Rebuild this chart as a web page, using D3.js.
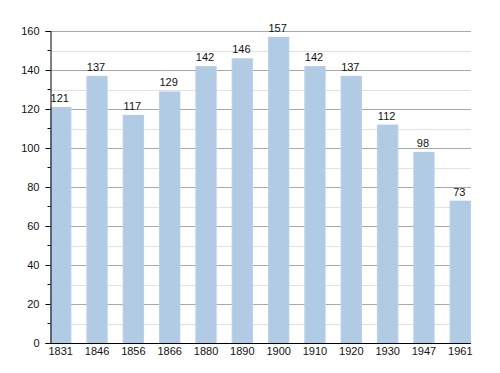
<!DOCTYPE html>
<html>
<head>
<meta charset="utf-8">
<script src="https://cdn.jsdelivr.net/npm/d3@7"></script>
<style>
  body { margin: 0; background: #fff; }
  text { font-family: "Liberation Sans", Arial, sans-serif; font-size: 11px; fill: #111; }
</style>
</head>
<body>
<div id="chart"></div>
<script>
// census years and population
var years = ["1831", "1846", "1856", "1866", "1880", "1890", "1900", "1910", "1920", "1930", "1947", "1961"];
var population = [121, 137, 117, 129, 142, 146, 157, 142, 137, 112, 98, 73];
var majorTicks = [0, 20, 40, 60, 80, 100, 120, 140, 160];
var minorTicks = [10, 30, 50, 70, 90, 110, 130, 150];

var svg_width = 500, svg_height = 373;
var plot_left = 50, plot_right = 471, plot_top = 31, plot_bottom = 343;

var svg = d3.select("#chart").append("svg")
    .attr("width", svg_width)
    .attr("height", svg_height);

var x = d3.scaleBand()
    .domain(years)
    .range([plot_left, plot_right])
    .paddingInner(0.41)
    .paddingOuter(0)
    .align(0);

var y = d3.scaleLinear()
    .domain([0, 160])
    .range([plot_bottom, plot_top]);

// bar gradient, soft edges
var grad = svg.append("defs").append("linearGradient")
    .attr("id", "barGrad")
    .attr("x1", "0%").attr("x2", "100%")
    .attr("y1", "0%").attr("y2", "0%");
grad.append("stop").attr("offset", "0%").attr("stop-color", "#bcd3ea");
grad.append("stop").attr("offset", "8%").attr("stop-color", "#b2cbe4");
grad.append("stop").attr("offset", "92%").attr("stop-color", "#b2cbe4");
grad.append("stop").attr("offset", "100%").attr("stop-color", "#bcd3ea");

// grid lines
svg.append("g").selectAll("line")
    .data(minorTicks)
    .enter().append("line")
    .attr("x1", plot_left).attr("x2", plot_right)
    .attr("y1", d => Math.round(y(d)) + 0.5)
    .attr("y2", d => Math.round(y(d)) + 0.5)
    .attr("stroke", "#e2e2e2");

svg.append("g").selectAll("line")
    .data(majorTicks.slice(1))
    .enter().append("line")
    .attr("x1", plot_left).attr("x2", plot_right)
    .attr("y1", d => Math.round(y(d)) + 0.5)
    .attr("y2", d => Math.round(y(d)) + 0.5)
    .attr("stroke", "#a8a8a8");

// bars
svg.append("g").selectAll("rect")
    .data(years)
    .enter().append("rect")
    .attr("x", d => x(d))
    .attr("y", (d, i) => y(population[i]))
    .attr("width", x.bandwidth())
    .attr("height", (d, i) => y(0) - y(population[i]))
    .attr("fill", "url(#barGrad)");

// value labels
svg.append("g").selectAll("text")
    .data(years)
    .enter().append("text")
    .attr("x", d => x(d) + x.bandwidth() / 2 - 1)
    .attr("y", (d, i) => y(population[i]) - 5)
    .attr("text-anchor", "middle")
    .text((d, i) => population[i]);

// y axis
var yAxis = d3.axisLeft(y)
    .tickValues(majorTicks)
    .tickSize(5)
    .tickPadding(6);
var gy = svg.append("g")
    .attr("transform", "translate(" + (plot_left + 0.5) + ",0)")
    .call(yAxis);
gy.select(".domain").attr("stroke", "#000");
gy.selectAll(".tick line").attr("stroke", "#000");
gy.selectAll("text").style("font-size", "11px").attr("fill", "#111")
    .style("font-family", "Liberation Sans, Arial, sans-serif");

gy.selectAll("line.minor-tick")
    .data(minorTicks)
    .enter().append("line")
    .attr("class", "minor-tick")
    .attr("x1", -3).attr("x2", 0)
    .attr("y1", d => y(d)).attr("y2", d => y(d))
    .attr("stroke", "#000");

// x axis
var xAxis = d3.axisBottom(x)
    .tickSize(0)
    .tickPadding(4)
    .tickSizeOuter(0);
var gx = svg.append("g")
    .attr("transform", "translate(0," + (plot_bottom + 0.5) + ")")
    .call(xAxis);
gx.select(".domain").attr("stroke", "#000").attr("d", "M" + plot_left + ",0H" + plot_right);
gx.selectAll("text").style("font-size", "11px").attr("fill", "#111")
    .style("font-family", "Liberation Sans, Arial, sans-serif");
</script>
</body>
</html>
